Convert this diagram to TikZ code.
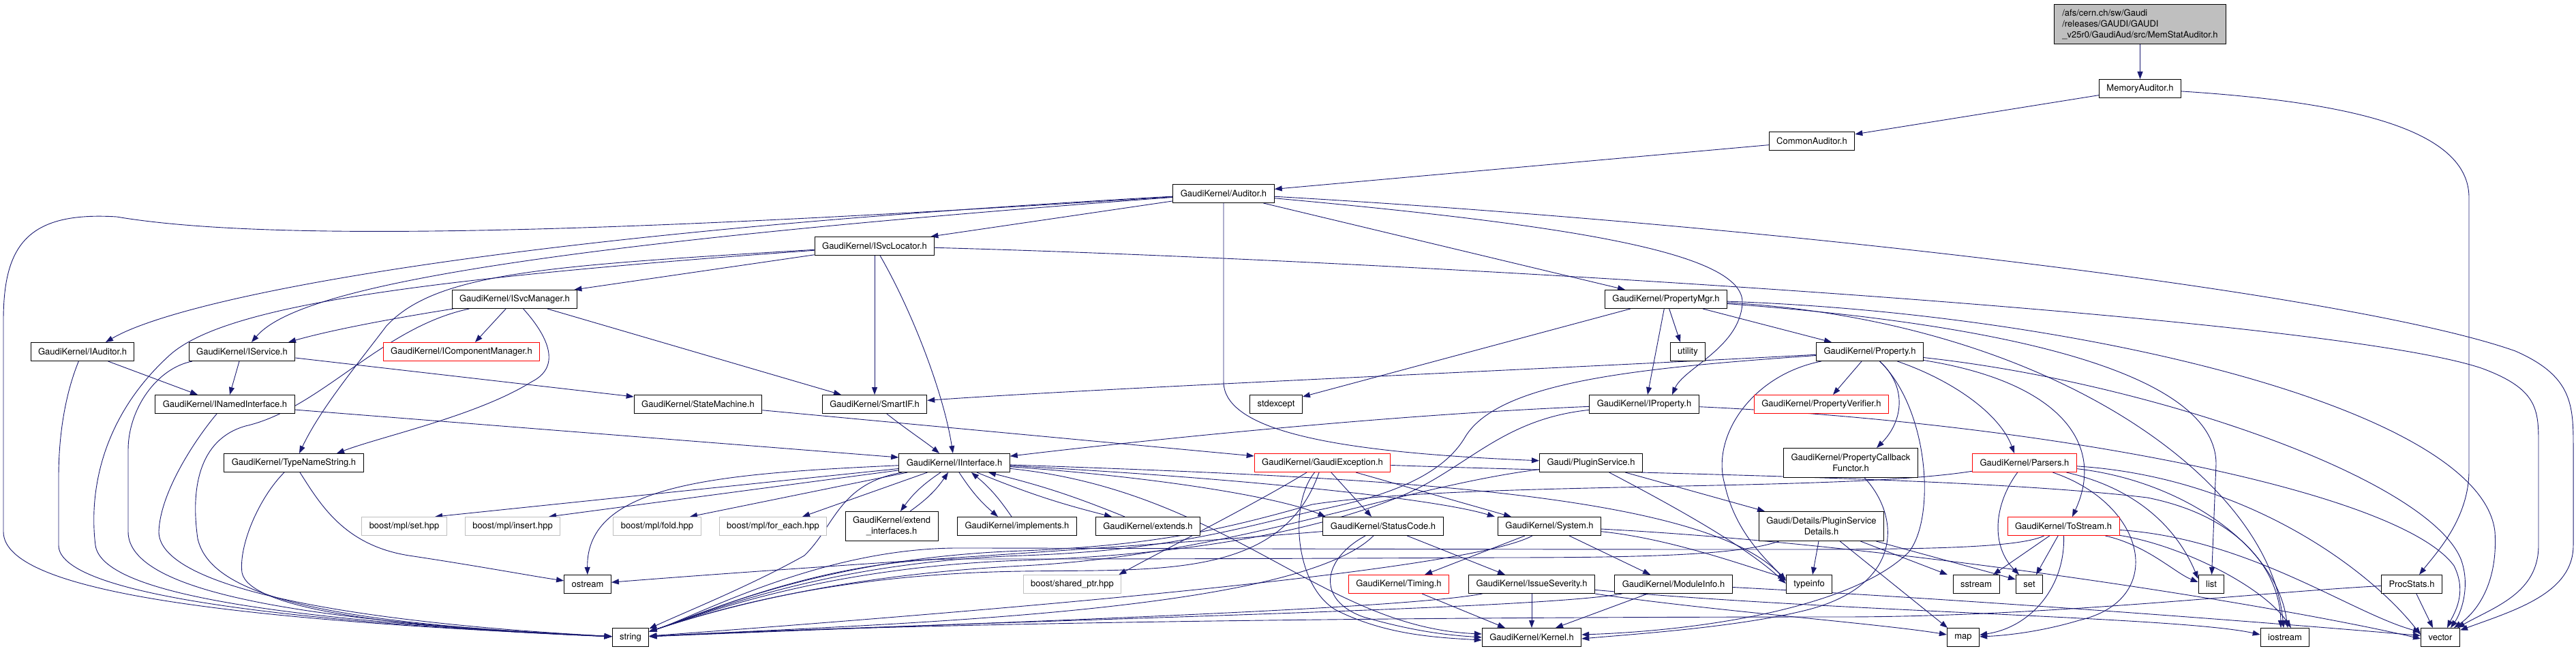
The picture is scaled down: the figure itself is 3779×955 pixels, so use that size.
\documentclass[tikz,border=0pt]{standalone}
\usepackage{fontspec}
\setmainfont{TeX Gyre Heros}
\usetikzlibrary{arrows.meta,backgrounds}

\definecolor{edgeblue}{RGB}{25,25,112}
\definecolor{boxgray}{RGB}{191,191,191}

\begin{document}
\begin{tikzpicture}[x=1pt,y=-1pt]
% Define common styles
\tikzset{
    hfile/.style={draw=black, line width=1pt, fill=white, minimum height=27pt, inner xsep=11pt, inner ysep=2pt, font=\fontsize{13}{16}\selectfont},
    twoline/.style={hfile, align=center, minimum height=43pt},
    redfile/.style={hfile, draw=red},
    sysfile/.style={hfile, draw=boxgray},
    mainfile/.style={hfile, fill=boxgray, align=left, inner xsep=12pt, minimum height=58pt},
    dep/.style={draw=edgeblue, line width=0.9pt, -{Triangle[length=11pt,width=8pt]}}
}
\useasboundingbox (0,0) rectangle (3779,955);

% The file and the auditors it pulls in
\node[mainfile] (root) at (3139.5,36) {/afs/cern.ch/sw/Gaudi\\/releases/GAUDI/GAUDI\\\_v25r0/GaudiAud/src/MemStatAuditor.h};
\node[hfile] (memaud) at (3139.5,130) {MemoryAuditor.h};
\node[hfile] (comaud) at (2658,207) {CommonAuditor.h};
\node[hfile] (auditor) at (1795,284) {GaudiKernel/Auditor.h};

% GaudiKernel interfaces
\node[hfile] (isvcloc) at (1283,361) {GaudiKernel/ISvcLocator.h};
\node[hfile] (isvcmgr) at (755,439) {GaudiKernel/ISvcManager.h};
\node[hfile] (propmgr) at (2444,439) {GaudiKernel/PropertyMgr.h};
\node[hfile] (iaud) at (121,516) {GaudiKernel/IAuditor.h};
\node[hfile] (isvc) at (355,516) {GaudiKernel/IService.h};
\node[redfile] (icompmgr) at (677,516) {GaudiKernel/IComponentManager.h};
\node[hfile] (utility) at (2476,516) {utility};
\node[hfile] (property) at (2743,516) {GaudiKernel/Property.h};
\node[hfile] (inamed) at (330,593) {GaudiKernel/INamedInterface.h};
\node[hfile] (statemach) at (1024,593) {GaudiKernel/StateMachine.h};
\node[hfile] (smartif) at (1283,593) {GaudiKernel/SmartIF.h};
\node[hfile] (stdexcept) at (1872,593) {stdexcept};
\node[hfile] (iprop) at (2412,593) {GaudiKernel/IProperty.h};
\node[redfile] (propverif) at (2672,593) {GaudiKernel/PropertyVerifier.h};
\node[hfile] (typename) at (431,679) {GaudiKernel/TypeNameString.h};
\node[hfile] (iiface) at (1400,679) {GaudiKernel/IInterface.h};
\node[redfile] (gexcept) at (1940,679) {GaudiKernel/GaudiException.h};
\node[hfile] (pluginsvc) at (2334,679) {Gaudi/PluginService.h};
\node[twoline] (propcb) at (2715,679) {GaudiKernel/PropertyCallback\\Functor.h};
\node[redfile] (parsers) at (2970,679) {GaudiKernel/Parsers.h};

% boost headers and the lower rows
\node[sysfile] (mplset) at (593,772) {boost/mpl/set.hpp};
\node[sysfile] (mplinsert) at (752,772) {boost/mpl/insert.hpp};
\node[sysfile] (mplfold) at (964,772) {boost/mpl/fold.hpp};
\node[sysfile] (mplforeach) at (1134,772) {boost/mpl/for\_each.hpp};
\node[twoline] (extendif) at (1308,772) {GaudiKernel/extend\\\_interfaces.h};
\node[hfile] (implements) at (1492,772) {GaudiKernel/implements.h};
\node[hfile] (extends) at (1684,772) {GaudiKernel/extends.h};
\node[hfile] (statuscode) at (2029,772) {GaudiKernel/StatusCode.h};
\node[hfile] (system) at (2273,772) {GaudiKernel/System.h};
\node[twoline] (plugindet) at (2672,772) {Gaudi/Details/PluginService\\Details.h};
\node[redfile] (tostream) at (3027,772) {GaudiKernel/ToStream.h};
\node[hfile] (ostream) at (862,857) {ostream};
\node[sysfile] (sharedptr) at (1573,857) {boost/shared\_ptr.hpp};
\node[redfile] (timing) at (2052,857) {GaudiKernel/Timing.h};
\node[hfile] (issuesev) at (2247,857) {GaudiKernel/IssueSeverity.h};
\node[hfile] (moduleinfo) at (2455,857) {GaudiKernel/ModuleInfo.h};
\node[hfile] (typeinfo) at (2654,857) {typeinfo};
\node[hfile] (sstream) at (2899,857) {sstream};
\node[hfile] (set) at (2977,857) {set};
\node[hfile] (list) at (3244,857) {list};
\node[hfile] (procstats) at (3538,857) {ProcStats.h};
\node[hfile] (string) at (925,935) {string};
\node[hfile] (kernel) at (2247,935) {GaudiKernel/Kernel.h};
\node[hfile] (map) at (2880,935) {map};
\node[hfile] (iostream) at (3352,935) {iostream};
\node[hfile] (vector) at (3580,935) {vector};

\begin{scope}[on background layer]
% top of the graph
\draw[dep] (root) -- (memaud);
\draw[dep] (memaud) -- (comaud);
\draw[dep] (memaud) .. controls (3450,150) and (3622,190) .. (3622,290) -- (3622,690) .. controls (3622,760) and (3575,810) .. (procstats);
\draw[dep] (comaud) -- (auditor);

% Auditor.h
\draw[dep] (auditor) .. controls (1000,335) and (420,360) .. (171,318) .. controls (40,310) and (5,360) .. (5,470) -- (5,780) .. controls (5,870) and (350,910) .. (string);
\draw[dep] (auditor) .. controls (700,345) and (260,440) .. ([xshift=34pt]iaud.north);
\draw[dep] (auditor) .. controls (700,365) and (430,430) .. ([xshift=14pt]isvc.north);
\draw[dep] (auditor) -- ([xshift=-6pt]isvcloc.north east);
\draw[dep] (auditor) -- ([xshift=-60pt]propmgr.north);
\draw[dep] (auditor) .. controls (2300,330) and (2560,370) .. (2556,445) .. controls (2552,510) and (2470,540) .. ([xshift=41pt]iprop.north);
\draw[dep] (auditor.south) -- (1795,560) .. controls (1795,640) and (2000,665) .. (pluginsvc);
\draw[dep] (auditor) .. controls (2600,330) and (3450,430) .. (3690,515) .. controls (3770,550) and (3775,590) .. (3775,650) -- (3775,800) .. controls (3775,870) and (3690,895) .. (vector);

% ISvcLocator.h
\draw[dep] (isvcloc) .. controls (600,410) and (330,450) .. (250,520) .. controls (150,610) and (130,720) .. (140,800) .. controls (150,870) and (400,910) .. (string);
\draw[dep] (isvcloc) .. controls (800,390) and (640,400) .. (567,478) .. controls (520,540) and (470,600) .. ([xshift=8pt]typename.north);
\draw[dep] (isvcloc) -- ([xshift=-5pt]isvcmgr.north east);
\draw[dep] (isvcloc) -- (smartif);
\draw[dep] (isvcloc) .. controls (1340,460) and (1385,580) .. (iiface);
\draw[dep] (isvcloc) .. controls (2000,380) and (3400,460) .. (3640,540) .. controls (3722,570) and (3724,600) .. (3724,650) -- (3724,800) .. controls (3724,870) and (3660,890) .. (vector);

% ISvcManager.h
\draw[dep] (isvcmgr) .. controls (620,460) and (500,480) .. ([xshift=68pt]isvc.north);
\draw[dep] (isvcmgr) .. controls (560,480) and (470,600) .. (360,625) .. controls (290,645) and (280,720) .. (290,790) .. controls (310,880) and (500,915) .. (string);
\draw[dep] (isvcmgr) -- ([xshift=20pt]icompmgr.north);
\draw[dep] (isvcmgr) .. controls (810,500) and (820,540) .. (780,560) .. controls (700,610) and (560,640) .. ([xshift=63pt]typename.north);
\draw[dep] (isvcmgr) -- ([xshift=-49pt]smartif.north);

% IAuditor.h, IService.h, INamedInterface.h
\draw[dep] (iaud) -- ([xshift=-40pt]inamed.north);
\draw[dep] (iaud) .. controls (95,580) and (86,640) .. (86,700) -- (86,800) .. controls (86,870) and (400,912) .. (string);
\draw[dep] (isvc) -- ([xshift=7pt]inamed.north);
\draw[dep] (isvc) .. controls (230,540) and (188,600) .. (188,660) -- (188,780) .. controls (188,870) and (450,912) .. (string);
\draw[dep] (isvc) -- ([yshift=-3pt]statemach.north west);
\draw[dep] (inamed) -- ([yshift=8pt]iiface.west);
\draw[dep] (inamed) .. controls (290,640) and (235,720) .. (233,780) .. controls (233,860) and (500,912) .. (string);

% TypeNameString.h, StateMachine.h, SmartIF.h
\draw[dep] (typename) .. controls (380,730) and (350,800) .. (355,840) .. controls (365,890) and (550,920) .. (string);
\draw[dep] (typename) .. controls (470,740) and (505,800) .. (600,815) .. controls (700,830) and (780,845) .. (ostream);
\draw[dep] (statemach) -- ([yshift=10pt]gexcept.west);
\draw[dep] (smartif) .. controls (1330,630) and (1360,650) .. ([xshift=-22pt]iiface.north);

% IInterface.h
\draw[dep] (iiface) -- ([xshift=45pt]mplset.north);
\draw[dep] (iiface) -- ([xshift=53pt]mplinsert.north);
\draw[dep] (iiface) -- ([xshift=48pt]mplfold.north);
\draw[dep] (iiface) -- ([xshift=43pt]mplforeach.north);
\draw[dep] ([xshift=-20pt]iiface.south) to[bend right=10] ([xshift=13pt]extendif.north);
\draw[dep] ([xshift=27pt]extendif.north) to[bend right=10] ([xshift=-9pt]iiface.south);
\draw[dep] ([xshift=7pt]iiface.south) to[bend right=8] ([xshift=-28pt]implements.north);
\draw[dep] ([xshift=-8pt]implements.north) to[bend right=8] ([xshift=25pt]iiface.south);
\draw[dep] ([xshift=33pt]iiface.south) to[bend right=4] ([xshift=-53pt]extends.north);
\draw[dep] ([xshift=-34pt]extends.north) to[bend right=4] ([xshift=50pt]iiface.south);
\draw[dep] (iiface) .. controls (1050,695) and (860,710) .. (ostream);
\draw[dep] (iiface) .. controls (1230,710) and (1226,770) .. (1180,815) .. controls (1100,860) and (1000,900) .. (string);
\draw[dep] (iiface) .. controls (1700,700) and (1880,730) .. ([xshift=4pt]statuscode.north west);
\draw[dep] (iiface) .. controls (1800,700) and (2100,730) .. ([xshift=-4pt]system.north west);
\draw[dep] (iiface) .. controls (1800,720) and (1940,920) .. ([yshift=5pt]kernel.west);
\draw[dep] (iiface) .. controls (2000,700) and (2500,720) .. ([yshift=5pt]typeinfo.west);

% GaudiException.h
\draw[dep] (gexcept) -- ([xshift=-17pt]statuscode.north);
\draw[dep] (gexcept) -- ([xshift=-56pt]system.north);
\draw[dep] (gexcept) .. controls (1840,740) and (1720,800) .. ([xshift=-4pt]sharedptr.north east);
\draw[dep] (gexcept) .. controls (1890,740) and (1900,860) .. (1960,895) .. controls (2030,930) and (2100,935) .. ([yshift=-4pt]kernel.west);
\draw[dep] (gexcept) .. controls (1880,850) and (1700,835) .. (1500,838) .. controls (1200,842) and (1020,905) .. (string);
\draw[dep] (gexcept) .. controls (2400,695) and (2900,700) .. (3150,730) .. controls (3300,760) and (3345,850) .. ([xshift=-6pt]iostream.north);

% StatusCode.h and System.h
\draw[dep] (statuscode) .. controls (1700,800) and (1200,830) .. (ostream);
\draw[dep] (statuscode) -- ([xshift=-39pt]issuesev.north);
\draw[dep] (statuscode) .. controls (1940,820) and (1930,880) .. (2000,905) .. controls (2080,928) and (2130,932) .. (kernel.west);
\draw[dep] (statuscode) .. controls (1900,900) and (1300,915) .. (string);
\draw[dep] (system) -- ([xshift=38pt]timing.north);
\draw[dep] (system) -- ([xshift=-34pt]moduleinfo.north);
\draw[dep] (system) .. controls (2150,840) and (1400,900) .. (string);
\draw[dep] (system) .. controls (2450,790) and (2560,830) .. ([yshift=9pt]typeinfo.west);
\draw[dep] (system) .. controls (2800,800) and (3350,890) .. ([yshift=-2pt]vector.west);

% Timing.h, IssueSeverity.h, ModuleInfo.h
\draw[dep] (timing) -- ([xshift=-39pt]kernel.north);
\draw[dep] (issuesev) -- (kernel);
\draw[dep] (issuesev) .. controls (2050,895) and (1400,915) .. (string);
\draw[dep] (issuesev) .. controls (2500,895) and (2760,915) .. (map);
\draw[dep] (issuesev) .. controls (2700,898) and (3200,905) .. ([yshift=4pt]iostream.west);
\draw[dep] (moduleinfo) -- ([xshift=35pt]kernel.north);
\draw[dep] (moduleinfo) .. controls (2250,895) and (1450,910) .. (string);
\draw[dep] (moduleinfo) .. controls (2900,880) and (3350,915) .. (vector);

% PropertyMgr.h and IProperty.h
\draw[dep] (propmgr) -- ([xshift=-56pt]property.north);
\draw[dep] (propmgr) -- ([xshift=5pt]iprop.north);
\draw[dep] (propmgr) -- ([yshift=-3pt]stdexcept.north east);
\draw[dep] (propmgr) -- ([xshift=-11pt]utility.north);
\draw[dep] (propmgr) .. controls (3000,480) and (3250,560) .. (3251,680) -- (list);
\draw[dep] (propmgr) .. controls (3000,470) and (3330,700) .. ([xshift=-2pt]iostream.north);
\draw[dep] (propmgr) .. controls (3050,460) and (3640,600) .. (3660,780) .. controls (3665,860) and (3630,900) .. ([xshift=20pt]vector.north);
\draw[dep] (iprop) .. controls (2000,610) and (1600,655) .. (iiface);
\draw[dep] (iprop) .. controls (2200,615) and (2150,690) .. (2050,730) .. controls (1900,790) and (1700,815) .. (1500,822) .. controls (1200,832) and (1020,905) .. (string);
\draw[dep] (iprop) .. controls (3000,620) and (3520,720) .. (3600,830) .. controls (3620,870) and (3600,900) .. ([xshift=10pt]vector.north);

% Gaudi/PluginService.h and its details
\draw[dep] (pluginsvc) -- ([xshift=-83pt]plugindet.north);
\draw[dep] (pluginsvc) .. controls (2450,740) and (2560,800) .. ([yshift=1pt]typeinfo.west);
\draw[dep] (pluginsvc) .. controls (2050,715) and (1800,815) .. (1500,830) .. controls (1200,845) and (1020,905) .. (string);
\draw[dep] (plugindet) -- ([xshift=5pt]typeinfo.north);
\draw[dep] (plugindet) -- ([xshift=-23pt]map.north);
\draw[dep] (plugindet) -- ([xshift=-42pt]sstream.north);
\draw[dep] (plugindet) -- ([yshift=7pt]set.west);
\draw[dep] (plugindet) .. controls (2550,815) and (2400,818) .. (2200,818) .. controls (1800,820) and (1600,820) .. (1400,820) .. controls (1200,822) and (1020,905) .. (string);

% Property.h
\draw[dep] (property) -- ([xshift=17pt]propverif.north);
\draw[dep] (property) .. controls (2800,570) and (2790,620) .. ([xshift=38pt]propcb.north);
\draw[dep] (property) .. controls (2870,560) and (2935,610) .. ([xshift=-15pt]parsers.north);
\draw[dep] (property) .. controls (3020,560) and (3090,650) .. ([xshift=13pt]tostream.north);
\draw[dep] (property) .. controls (2570,550) and (2510,640) .. (2530,710) .. controls (2545,780) and (2590,820) .. ([yshift=6pt]typeinfo.west);
\draw[dep] (property) .. controls (2300,540) and (1600,570) .. (smartif);
\draw[dep] (property) .. controls (2830,600) and (2840,760) .. (2800,810) .. controls (2720,890) and (2500,925) .. ([yshift=4pt]kernel.east);
\draw[dep] (property) .. controls (3150,560) and (3560,700) .. (3610,820) .. controls (3625,860) and (3610,900) .. ([xshift=15pt]vector.north);
\draw[dep] (property) .. controls (2400,540) and (2200,560) .. (2150,640) .. controls (2110,710) and (2000,735) .. (1925,750) .. controls (1800,780) and (1700,808) .. (1500,815) .. controls (1200,825) and (1020,905) .. (string);
\draw[dep] (propcb) .. controls (2790,760) and (2790,860) .. (2650,895) .. controls (2550,920) and (2400,930) .. ([yshift=-2pt]kernel.east);

% Parsers.h and ToStream.h
\draw[dep] (parsers) .. controls (2925,740) and (2920,800) .. ([xshift=-15pt]set.north);
\draw[dep] (parsers) .. controls (3150,720) and (3200,790) .. ([yshift=8pt]list.west);
\draw[dep] (parsers) .. controls (3200,705) and (3340,800) .. ([xshift=4pt]iostream.north);
\draw[dep] (parsers) .. controls (3300,700) and (3480,840) .. ([yshift=4pt]vector.west);
\draw[dep] (parsers) .. controls (3150,740) and (3180,880) .. (3050,910) .. controls (3000,925) and (2950,932) .. (map);
\draw[dep] (parsers) .. controls (2700,722) and (2150,705) .. (1925,740) .. controls (1800,775) and (1700,800) .. (1500,808) .. controls (1200,818) and (1020,905) .. (string);
\draw[dep] (tostream) -- ([xshift=25pt]sstream.north);
\draw[dep] (tostream) -- ([xshift=10pt]set.north);
\draw[dep] (tostream) .. controls (3030,860) and (2980,920) .. (map);
\draw[dep] (tostream) .. controls (3150,800) and (3190,840) .. ([yshift=3pt]list.west);
\draw[dep] (tostream) .. controls (3200,800) and (3320,860) .. ([xshift=9pt]iostream.north);
\draw[dep] (tostream) .. controls (3300,790) and (3450,900) .. (vector);
\draw[dep] (tostream) .. controls (2960,805) and (2800,806) .. (2600,806) .. controls (2000,806) and (1600,804) .. (1400,804) .. controls (1200,806) and (1020,905) .. (string);

% ProcStats.h
\draw[dep] (procstats) -- ([xshift=-11pt]vector.north);
\draw[dep] (procstats) .. controls (3300,870) and (3000,905) .. (2700,905) .. controls (2000,905) and (1300,915) .. (string);
\end{scope}
\end{tikzpicture}
\end{document}
